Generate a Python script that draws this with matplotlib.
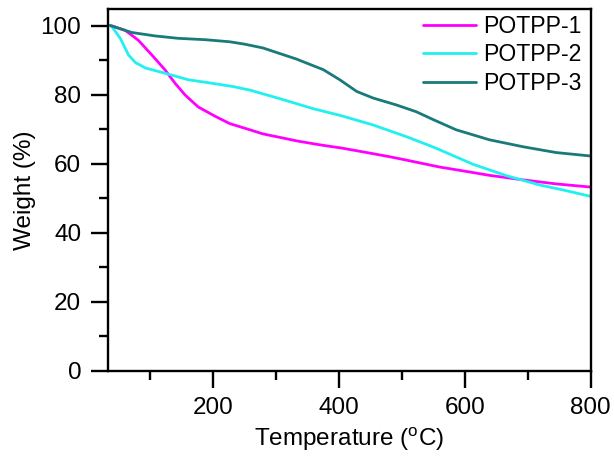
import matplotlib
matplotlib.use("Agg")
import matplotlib.pyplot as plt
from matplotlib.ticker import MultipleLocator, FixedLocator

plt.rcParams['font.family'] = ['Liberation Sans', 'DejaVu Sans']
plt.rcParams['mathtext.fontset'] = 'custom'
plt.rcParams['mathtext.rm'] = 'Liberation Sans'

# Data
t1 = [36, 39, 60, 81, 102, 123, 139, 155, 176, 203, 226, 258, 279, 311, 332, 364, 385, 401,
      438, 480, 502, 560, 600, 639, 692, 746, 800]
w1 = [100, 99.9, 98.6, 95.7, 91.5, 87.2, 83.3, 79.9, 76.4, 73.7, 71.6, 69.8, 68.6, 67.4, 66.6,
      65.6, 65.0, 64.6, 63.4, 62.0, 61.2, 59.0, 57.8, 56.6, 55.3, 54.1, 53.2]

t2 = [36, 39, 52, 65, 76, 92, 123, 160, 197, 232, 258, 306, 359, 401, 454, 507, 544, 560,
      613, 666, 719, 760, 800]
w2 = [100, 99.6, 96.3, 91.5, 89.3, 87.7, 86.2, 84.3, 83.3, 82.3, 81.3, 78.8, 75.9, 74.0, 71.2,
      67.8, 65.2, 64.0, 59.8, 56.5, 53.8, 52.2, 50.5]

t3 = [36, 70, 107, 144, 187, 226, 250, 279, 332, 375, 401, 428, 454, 491, 523, 549, 586, 639,
      692, 745, 800]
w3 = [100, 98.0, 97.0, 96.3, 95.9, 95.3, 94.6, 93.5, 90.3, 87.2, 84.3, 80.9, 79.0, 77.0, 75.0,
      72.8, 69.8, 66.9, 64.9, 63.2, 62.2]

labels = ['POTPP-1', 'POTPP-2', 'POTPP-3']
colors = ['#FF00FF', '#22F0F0', '#1A7A7A']

fig = plt.figure(figsize=(6.14, 4.63), dpi=100)
ax = fig.add_axes([0.1754, 0.1994, 0.7866, 0.7812])

for t, w, lab, c in zip([t1, t2, t3], [w1, w2, w3], labels, colors):
    ax.plot(t, w, color=c, lw=2.0, label=lab, solid_joinstyle='round',
            solid_capstyle='round')

ax.set_xlim(32, 800)
ax.set_ylim(0, 104.8)
ax.xaxis.set_major_locator(FixedLocator([200, 400, 600, 800]))
ax.xaxis.set_minor_locator(FixedLocator([100, 300, 500, 700]))
ax.yaxis.set_major_locator(MultipleLocator(20))
ax.yaxis.set_minor_locator(MultipleLocator(10))

for s in ax.spines.values():
    s.set_linewidth(1.7)

ax.tick_params(axis='both', which='major', direction='out', length=12, width=1.7,
               labelsize=17.5, pad=7)
ax.tick_params(axis='both', which='minor', direction='out', length=6.5, width=1.7)
ax.tick_params(axis='x', which='major', pad=7)

ax.set_xlabel(r'Temperature ($^{\mathrm{o}}$C)', fontsize=17.5, labelpad=4)
ax.set_ylabel('Weight (%)', fontsize=17.5, labelpad=3)

ax.legend(loc='upper right', frameon=False, fontsize=16.6, handlelength=2.3,
          handletextpad=0.3, labelspacing=0.24, borderaxespad=0.0,
          bbox_to_anchor=(1.0, 1.009))

fig.savefig('out.png', dpi=100)
